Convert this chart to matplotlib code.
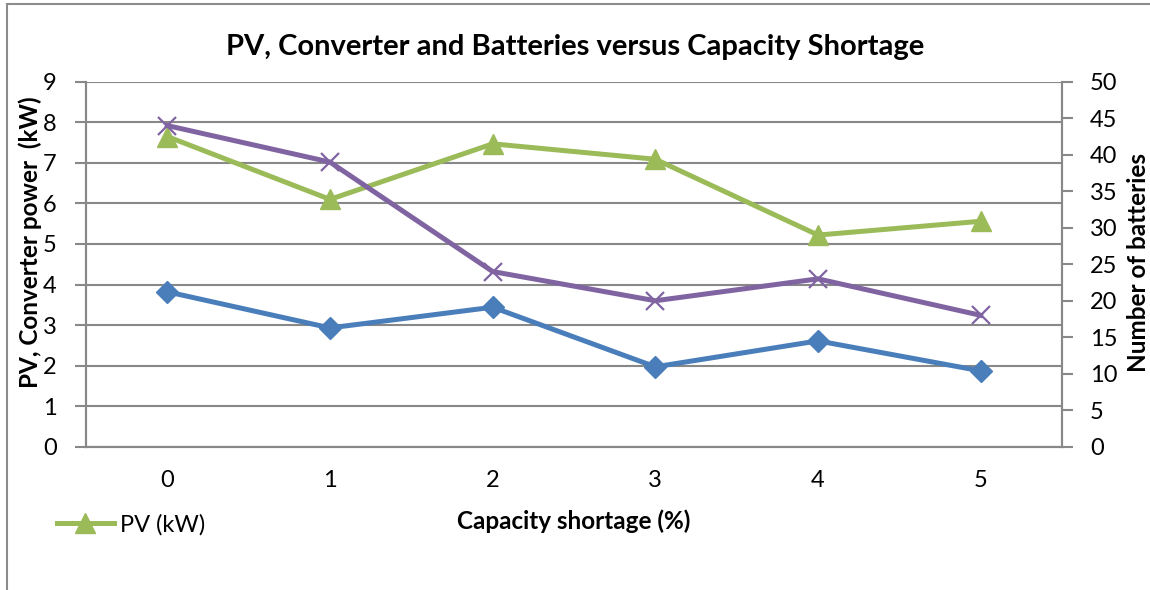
import matplotlib
matplotlib.use("Agg")
import matplotlib.pyplot as plt
from matplotlib.patches import Rectangle

plt.rcParams['font.family'] = ['Lato', 'DejaVu Sans']

categories = ["0", "1", "2", "3", "4", "5"]
converter_kw = [3.82, 2.93, 3.44, 1.97, 2.61, 1.87]
pv_kw = [7.65, 6.10, 7.47, 7.09, 5.22, 5.56]
batteries = [44, 39, 24, 20, 23, 18]

blue = "#4A7EBB"
green = "#9BBB59"
purple = "#8064A2"
grid = "#888888"

fig = plt.figure(figsize=(11.5, 5.9), dpi=100)
ax = fig.add_axes([86/1150, 1-446.7/590, (1062-86)/1150, (446.7-81.8)/590])
ax2 = ax.twinx()

x = list(range(len(categories)))
ax.plot(x, converter_kw, color=blue, lw=3.6, marker='D', ms=11, zorder=3)
ax.plot(x, pv_kw, color=green, lw=3.6, marker='^', ms=14, zorder=3, label="PV (kW)")
ax2.plot(x, batteries, color=purple, lw=3.6, marker='x', ms=13, mew=1.6, zorder=3)

ax.set_xlim(-0.5, 5.5)
ax.set_ylim(0, 9)
ax.set_yticks(range(0, 10))
ax2.set_ylim(0, 50)
ax2.set_yticks(range(0, 55, 5))
ax.set_xticks(x)
ax.set_xticklabels(categories)

ax.grid(axis='y', color=grid, lw=1.5)
ax.set_axisbelow(True)
for a in (ax, ax2):
    a.spines['top'].set_visible(False)
    for s in ('left', 'right', 'bottom'):
        a.spines[s].set_color(grid)
        a.spines[s].set_linewidth(1.5)
ax.tick_params(axis='y', length=8, width=1.5, color=grid, labelsize=17, pad=13)
ax.tick_params(axis='x', length=0, labelsize=17, pad=17)
ax2.tick_params(axis='y', length=8, width=1.5, color=grid, labelsize=17, pad=12)

fig.text(0.5, 1-47/590, "PV, Converter and Batteries versus Capacity Shortage",
         ha='center', va='center', fontsize=21, fontweight='bold')
fig.text(574/1150, 1-521/590, "Capacity shortage (%)", ha='center', va='center',
         fontsize=17.5, fontweight='bold')
fig.text(30/1150, 1-242/590, "PV, Converter power  (kW)", ha='center', va='center',
         rotation=90, fontsize=17.5, fontweight='bold')
fig.text(1138/1150, 1-262/590, "Number of batteries", ha='center', va='center',
         rotation=90, fontsize=17.5, fontweight='bold')

leg = fig.legend(loc='center left', bbox_to_anchor=(57/1150, 1-525/590), frameon=False,
                 fontsize=17, handlelength=2.4, handletextpad=0.25, borderaxespad=0,
                 borderpad=0)

fig.patches.append(Rectangle((7/1150, -0.1), 1.2, 1.1 - 4/590, transform=fig.transFigure,
                             fill=False, edgecolor="#8c8c8c", lw=1.5))

fig.savefig("out.png", dpi=100)
